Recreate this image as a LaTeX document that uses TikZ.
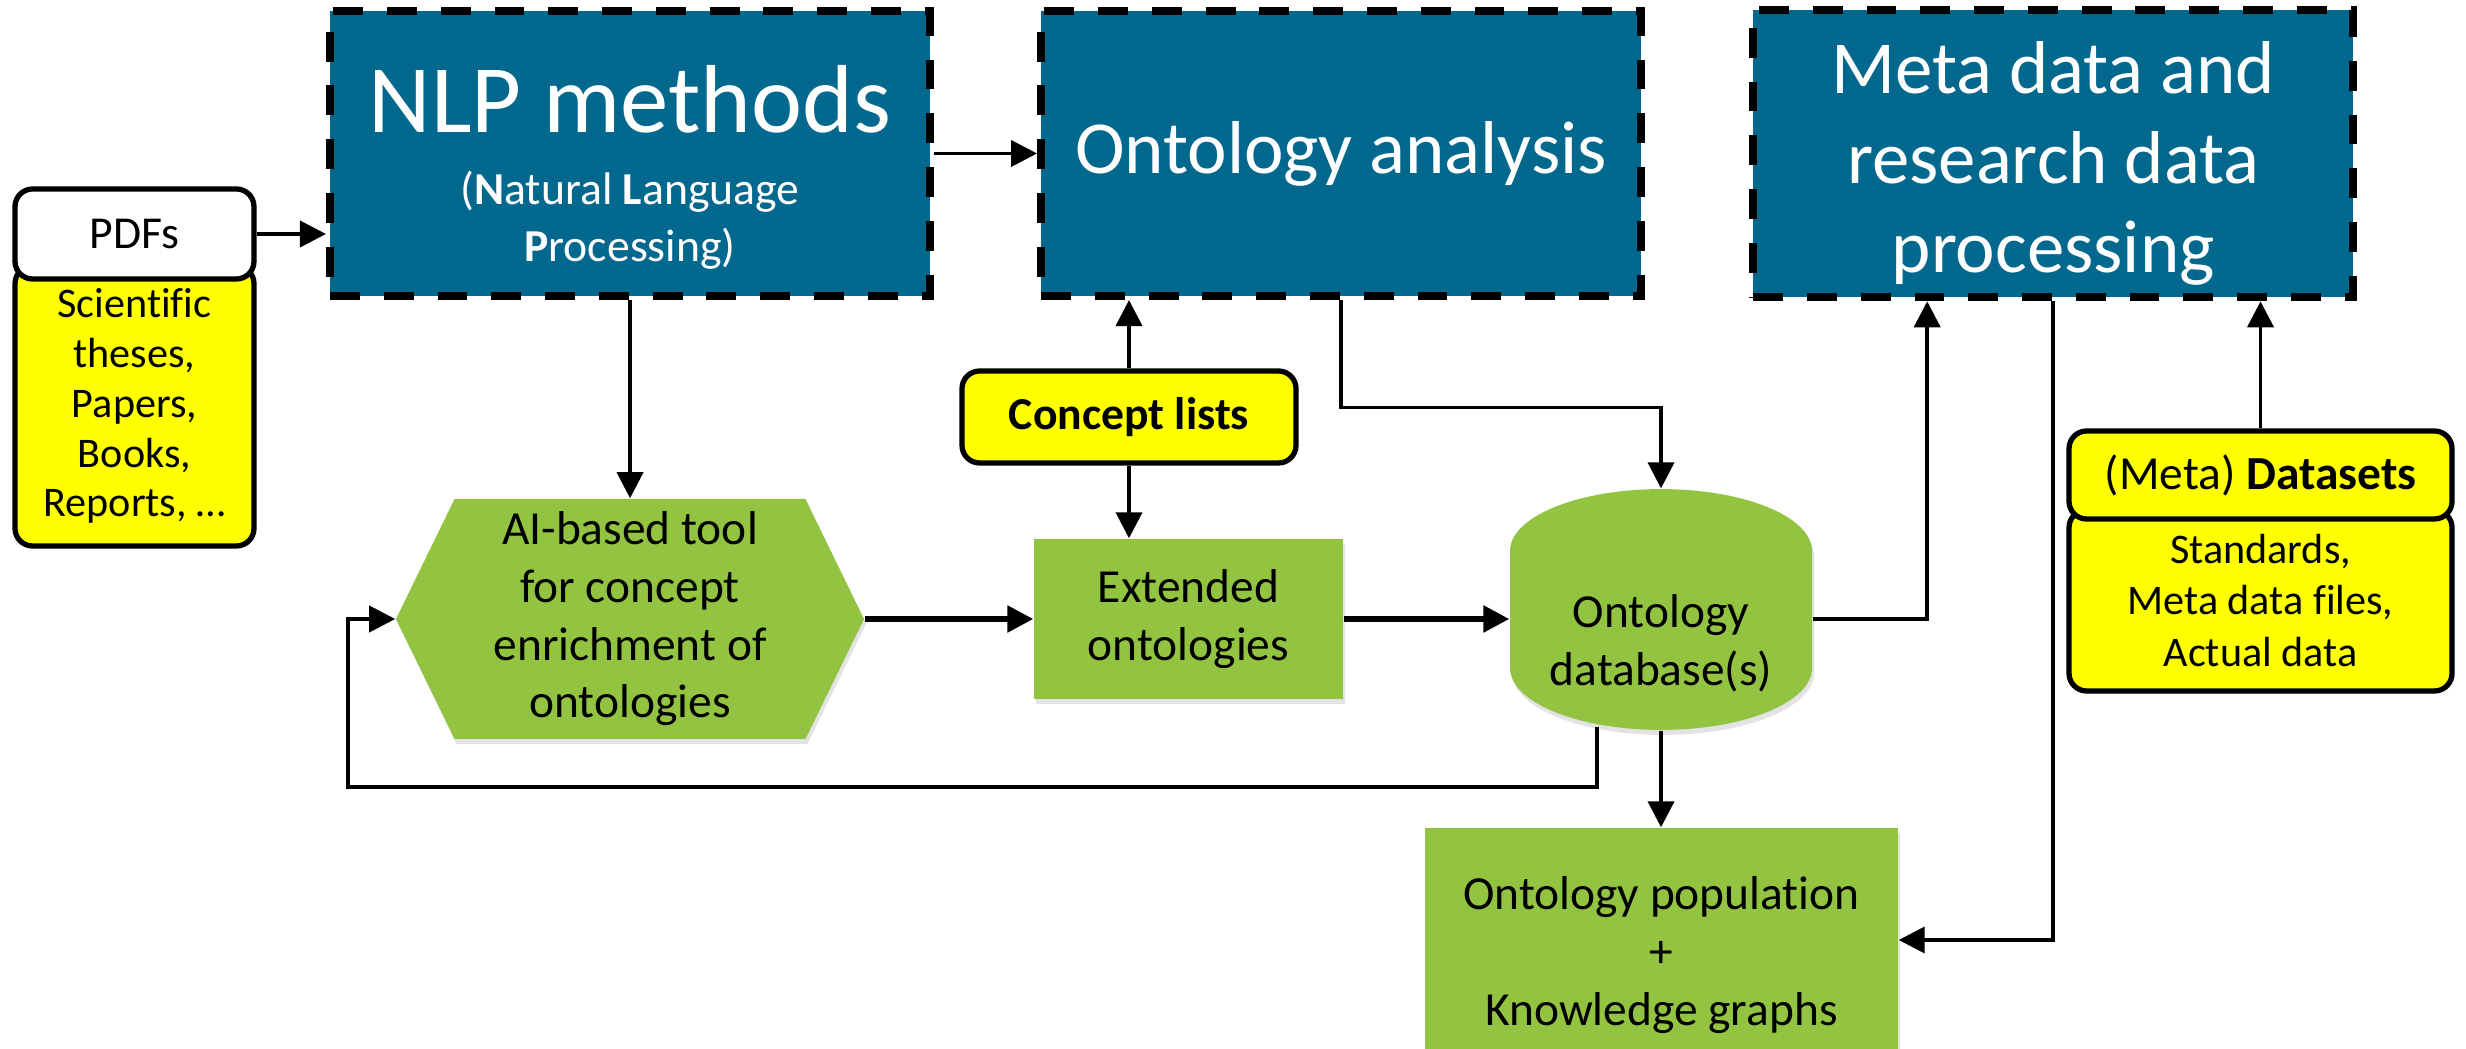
\documentclass[tikz,border=0pt]{standalone}
\usepackage{fontspec}
\setmainfont{Carlito}[Ligatures={TeX,NoCommon}]
\usetikzlibrary{positioning,arrows.meta,shapes.geometric,shapes.symbols,shadows}
\definecolor{procblue}{HTML}{03688E}
\definecolor{leaf}{HTML}{92C441}
\definecolor{marker}{HTML}{FFFF00}

\begin{document}
\begin{tikzpicture}[
  proc/.style={fill=procblue, draw=black, line width=2.3pt, dash pattern=on 8.5pt off 6.8pt,
               minimum width=6cm, minimum height=2.85cm, text=white, align=center},
  note/.style={fill=marker, draw=black, line width=1.5pt, rounded corners=5pt, align=center,
               font=\fontsize{12}{14.2}\selectfont},
  leafbox/.style={fill=leaf, align=center, font=\fontsize{13.5}{16.4}\selectfont,
                  drop shadow={opacity=0.22, shadow xshift=0.02cm, shadow yshift=-0.05cm}},
  arrow/.style={-{Triangle[length=0.26cm, width=0.26cm]}, line width=1.1pt},
  flow/.style={arrow, line width=1.6pt}
]
\useasboundingbox (0,0) rectangle (24.66,-10.49);

% --- processing row ---
\node[proc, font=\fontsize{13}{16}\selectfont] (nlp) at (6.30,-1.535)
  {\rule{0pt}{0.95cm}\fontsize{27.5}{30}\selectfont NLP methods\\[4.5pt]
   (\textbf{N}atural \textbf{L}anguage\\ \textbf{P}rocessing)};
\node[proc, right=1.03cm of nlp, font=\fontsize{21.3}{25}\selectfont] (onto) {Ontology analysis};
\node[proc, right=1.04cm of onto, font=\fontsize{21.3}{25.5}\selectfont] (meta)
  {\rule{0pt}{0.72cm}Meta data and\\research data\\processing};

% --- sources ---
\node[note, minimum width=2.39cm, minimum height=2.80cm] (pdfbody) at (1.345,-4.06)
  {Scientific\\theses,\\Papers,\\Books,\\Reports, …};
\node[note, fill=white, minimum width=2.39cm, minimum height=0.90cm,
      font=\fontsize{13}{16}\selectfont] (pdfhead) at (1.345,-2.34) {PDFs};
\node[note, minimum width=3.34cm, minimum height=0.92cm,
      font=\bfseries\fontsize{13}{16}\selectfont] (concept) at (11.29,-4.17) {Concept lists};
\node[note, minimum width=3.83cm, minimum height=1.81cm, font=\fontsize{12}{14.7}\selectfont]
  (dsbody) at (22.605,-6.005) {Standards,\\Meta data files,\\Actual data};
\node[note, minimum width=3.83cm, minimum height=0.88cm, font=\fontsize{13.5}{16}\selectfont]
  (dshead) at (22.605,-4.75) {(Meta) \textbf{Datasets}};

% --- ontology pipeline ---
\node[leafbox, signal, signal to=west and east, signal pointer angle=128,
      minimum width=4.68cm, minimum height=2.4cm] (aitool) at (6.30,-6.19)
  {AI-based tool\\for concept\\enrichment of\\ontologies};
\node[leafbox, minimum width=3.09cm, minimum height=1.60cm] (ext) at (11.885,-6.19)
  {Extended\\ontologies};
\node[leafbox, cylinder, shape border rotate=90, aspect=0.5, minimum width=3.02cm,
      minimum height=2.15cm, text width=2.24cm, text height=0.3cm, text depth=0.25cm,
      anchor=shape center] (db) at (16.61,-6.095) {};
\node[align=center, font=\fontsize{13.5}{16.4}\selectfont] (dblabel)
  at ([yshift=-0.34cm]db.shape center) {Ontology\\database(s)};
\node[leafbox, minimum width=4.73cm, minimum height=2.54cm] (pop) at (16.615,-9.55)
  {Ontology population\\+\\Knowledge graphs};

% --- connectors ---
\draw[arrow] (pdfhead.east) -- (pdfhead.east -| nlp.west);
\draw[arrow] (nlp) -- (onto);
\draw[arrow] (nlp) -- (aitool);
\draw[arrow] (concept) -- (concept |- onto.south);
\draw[arrow] (concept) -- (concept |- ext.north);
\draw[arrow] (onto.south) -- ++(0,-1.075) -| (db.north);
\draw[flow] (aitool.east) -- (ext.west);
\draw[flow] (ext.east) -- (ext.east -| db.west);
\draw[arrow] (db.east |- ext.east) -| ([xshift=-1.26cm]meta.south);
\draw[arrow] ([xshift=-0.64cm, yshift=0.04cm]db.south)
  |- ([xshift=-0.47cm, yshift=-1.68cm]aitool.west) |- (aitool.west);
\draw[arrow] (db.south) -- (db.south |- pop.north);
\draw[arrow] (meta.south) |- ([yshift=0.15cm]pop.east);
\draw[arrow] (dshead.north) -- (dshead.north |- meta.south);

\end{tikzpicture}
\end{document}
